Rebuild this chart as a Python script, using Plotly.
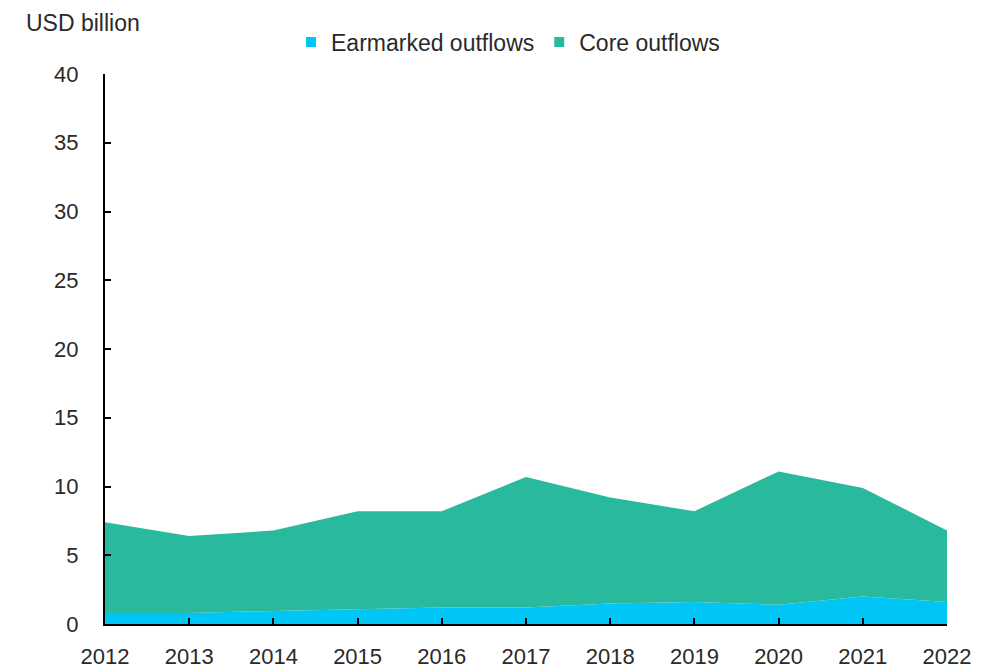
import plotly.graph_objects as go

years = [2012, 2013, 2014, 2015, 2016, 2017, 2018, 2019, 2020, 2021, 2022]
earmarked = [0.8, 0.8, 0.95, 1.1, 1.2, 1.2, 1.5, 1.6, 1.4, 2.0, 1.6]
total = [7.4, 6.4, 6.8, 8.2, 8.2, 10.7, 9.2, 8.2, 11.1, 9.9, 6.8]
core = [round(t - e, 2) for t, e in zip(total, earmarked)]
y_ticks = [0, 5, 10, 15, 20, 25, 30, 35, 40]

blue = "#00c6f5"
green = "#29b99d"
FONT = "Liberation Sans, Arial, sans-serif"
W, H = 986, 663
L, R, T, B = 97, 47, 66, 47

fig = go.Figure()
fig.add_trace(go.Scatter(x=years, y=earmarked, name="Earmarked outflows", mode="lines",
                         stackgroup="one", line=dict(width=0, color=blue), fillcolor=blue,
                         showlegend=False))
fig.add_trace(go.Scatter(x=years, y=core, name="Core outflows", mode="lines",
                         stackgroup="one", line=dict(width=0, color=green), fillcolor=green,
                         showlegend=False))
# legend entries with square swatches
fig.add_trace(go.Scatter(x=[None], y=[None], name="Earmarked outflows", mode="markers",
                         marker=dict(symbol="square", size=10, color=blue)))
fig.add_trace(go.Scatter(x=[None], y=[None], name="Core outflows", mode="markers",
                         marker=dict(symbol="square", size=10, color=green)))

plot_w = W - L - R
plot_h = H - T - B

fig.update_layout(
    width=W, height=H,
    margin=dict(l=L, r=R, t=T, b=B, autoexpand=False),
    paper_bgcolor="white", plot_bgcolor="white",
    font=dict(family=FONT, size=22, color="#2a2a2a"),
    showlegend=True,
    legend=dict(orientation="h", x=500 / W, xanchor="center", y=1 - 34 / H, yanchor="middle",
                yref="container", xref="container",
                font=dict(family=FONT, size=23, color="#2a2a2a"),
                traceorder="normal", itemwidth=30, tracegroupgap=0),
    xaxis=dict(range=[2012, 2022], tickvals=years, ticktext=[str(y) for y in years],
               showline=True, linecolor="black", linewidth=2, ticks="inside", ticklen=6,
               tickcolor="black", tickwidth=2, showgrid=False, zeroline=False,
               ticklabelstandoff=12, automargin=False),
    yaxis=dict(range=[0, 40], tickvals=y_ticks, showline=True, linecolor="black", linewidth=2,
               ticks="inside", ticklen=6, tickcolor="black", tickwidth=2,
               showgrid=False, zeroline=False, ticklabelstandoff=20, automargin=False),
    annotations=[dict(text="USD billion", xref="paper", yref="paper",
                      x=(16 - L) / plot_w, y=1 + (T - 15) / plot_h,
                      xanchor="left", yanchor="middle", showarrow=False,
                      font=dict(family=FONT, size=23, color="#2a2a2a"))],
)
fig.write_html("out.html")
